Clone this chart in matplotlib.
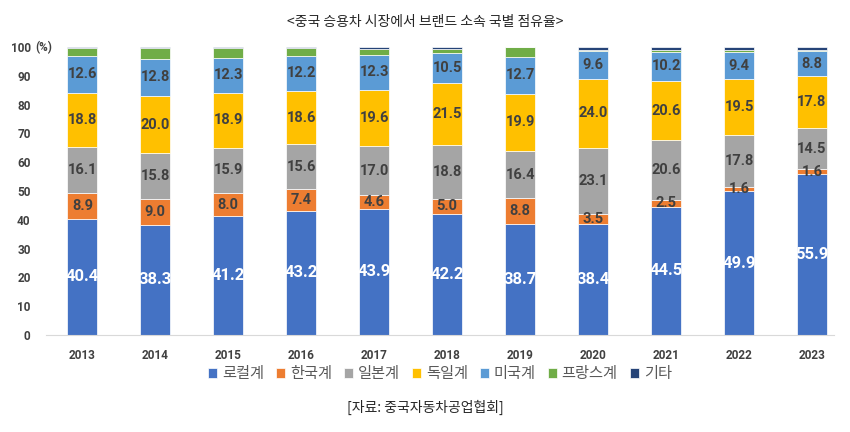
import matplotlib
matplotlib.use("Agg")
import matplotlib.pyplot as plt
import numpy as np

plt.rcParams['font.family'] = ['Noto Sans CJK KR', 'DejaVu Sans']

years = ['2013', '2014', '2015', '2016', '2017', '2018', '2019', '2020', '2021', '2022', '2023']
local = [40.4, 38.3, 41.2, 43.2, 43.9, 42.2, 38.7, 38.4, 44.5, 49.9, 55.9]
korea = [8.9, 9.0, 8.0, 7.4, 4.6, 5.0, 8.8, 3.5, 2.5, 1.6, 1.6]
japan = [16.1, 15.8, 15.9, 15.6, 17.0, 18.8, 16.4, 23.1, 20.6, 17.8, 14.5]
germany = [18.8, 20.0, 18.9, 18.6, 19.6, 21.5, 19.9, 24.0, 20.6, 19.5, 17.8]
usa = [12.6, 12.8, 12.3, 12.2, 12.3, 10.5, 12.7, 9.6, 10.2, 9.4, 8.8]
france = [3.0, 3.9, 3.5, 2.8, 1.9, 1.5, 3.4, 0.4, 0.6, 0.8, 0.4]
other = [0.2, 0.2, 0.2, 0.2, 0.7, 0.5, 0.1, 1.0, 1.0, 1.0, 1.0]

series = [
    ('로컬계', local, '#4472C4'),
    ('한국계', korea, '#ED7D31'),
    ('일본계', japan, '#A5A5A5'),
    ('독일계', germany, '#FFC000'),
    ('미국계', usa, '#5B9BD5'),
    ('프랑스계', france, '#70AD47'),
    ('기타', other, '#264478'),
]
labelled = ['로컬계', '한국계', '일본계', '독일계', '미국계']
numfont = ['Roboto', 'DejaVu Sans']

fig = plt.figure(figsize=(8.5, 4.32), dpi=100)
ax = fig.add_axes([0.054, 0.2245, 0.927, 0.6665])

x = np.arange(len(years))
bottom = np.zeros(len(years))
for name, vals, color in series:
    vals = np.array(vals)
    ax.bar(x, vals, width=0.41, bottom=bottom, color=color, label=name,
           edgecolor='white', linewidth=0.5)
    if name in labelled:
        for xi, b, v in zip(x, bottom, vals):
            if name == '로컬계':
                ax.text(xi, b + v / 2, f'{v:.1f}', ha='center', va='center',
                        color='white', fontsize=12, fontweight='bold', family=numfont)
            else:
                ax.text(xi, b + v / 2, f'{v:.1f}', ha='center', va='center',
                        color='#404040', fontsize=10.5, fontweight='bold', family=numfont)
    bottom += vals

ax.set_xlim(-0.5, 10.3)
ax.set_ylim(0, 100)
ax.set_xticks(x)
ax.set_xticklabels(years, fontsize=8.5, fontweight='bold', color='#404040', family=numfont)
ax.set_yticks(range(0, 101, 10))
ax.set_yticklabels([str(v) for v in range(0, 101, 10)],
                   fontsize=8.5, fontweight='bold', color='#404040', family=numfont)
ax.tick_params(axis='y', length=0, pad=11)
ax.tick_params(axis='x', length=0, pad=10)
ax.text(-0.65, 100, '(%)', ha='left', va='center', fontsize=8.5, fontweight='bold',
        color='#404040', family=numfont)
for s in ['top', 'right', 'left']:
    ax.spines[s].set_visible(False)
ax.spines['bottom'].set_color('#D9D9D9')

ax.legend(loc='center', bbox_to_anchor=(0.5, -0.135), ncol=7, frameon=False,
          handlelength=0.6, handleheight=0.6, handletextpad=0.3, columnspacing=0.8,
          prop={'size': 11}, labelcolor='#595959')

fig.text(0.5, 0.948, '<중국 승용차 시장에서 브랜드 소속 국별 점유율>', ha='center', va='center',
         fontsize=10, color='#262626')
fig.text(0.5, 0.058, '[자료: 중국자동차공업협회]', ha='center', va='center',
         fontsize=10, color='#262626')

fig.savefig('out.png', dpi=100)
